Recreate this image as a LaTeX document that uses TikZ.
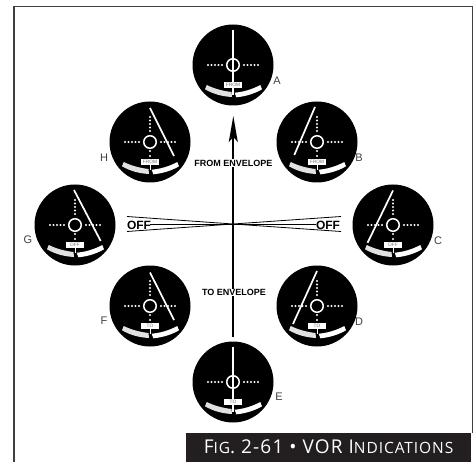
\documentclass[tikz,border=0pt]{standalone}
\usepackage{fontspec}
\setmainfont{Liberation Sans}
\newfontfamily\capfont[LetterSpace=6]{Open Sans}
\usetikzlibrary{arrows.meta,positioning}
\definecolor{barsoft}{RGB}{225,225,225}
\definecolor{capbar}{RGB}{35,31,32}
\newcommand{\capsm}[1]{{\fontsize{15.5}{17}\selectfont #1}}
% one instrument: name, centre, needle top, needle foot, flag text, letter position, letter
\newcommand{\vordial}[7]{%
  \node[dialface] (#1) at (#2) {};
  \begin{scope}[shift={(#2)}]
    \foreach \tick in {-25,-21.5,-18,-14.5,-11,11,14.5,18,21.5,25} \fill[white] (\tick,0) circle (1.05);
    \foreach \tick in {-25,-21.5,-18,-14.5,-11,9,14} \fill[white] (0,\tick) circle (1.05);
    \fill[barsoft] (-28,24.3) .. controls (-19,29.5) and (-10,31.5) .. (-1,32) -- (-1.5,27) .. controls (-10,26) and (-18,24) .. (-26.3,20) -- cycle;
    \fill[white] (29,24.3) .. controls (21,29) and (12,31.5) .. (3.3,32.3) -- (1.7,27.7) .. controls (10,27) and (19,24.5) .. (27.3,20) -- cycle;
    \draw[white,line width=1pt] (0,22) -- (0,28);
    \draw[white,line width=1.7pt] (#3) -- (#4);
    \node[hubring] (#1hub) at (0,0) {};
    \node[flagbox] (#1flag) at (0,20) {#5};
  \end{scope}
  \node[dialname] (#1name) at (#6) {#7};
}
\begin{document}
\begin{tikzpicture}[x=1pt,y=-1pt,
  dialface/.style={circle,fill=black,inner sep=0pt,minimum size=81pt},
  hubring/.style={circle,draw=white,line width=1.5pt,inner sep=0pt,minimum size=12.5pt},
  flagbox/.style={fill=white,inner sep=0pt,minimum width=17.5pt,minimum height=6pt,font=\fontsize{4.8}{5}\selectfont,text=black!55},
  dialname/.style={font=\fontsize{11}{12}\selectfont,text=black!75},
  envlabel/.style={font=\fontsize{9}{10}\selectfont\bfseries,fill=white,inner sep=0.6pt},
  offlabel/.style={font=\fontsize{12}{13}\selectfont\bfseries,inner sep=0pt},
  arr/.style={-{Stealth[length=26pt,width=9pt,inset=5pt]},line width=1.7pt}]
\useasboundingbox (0,0) rectangle (476,462);
%% ---- frame ----
\draw[black!75,line width=1.5pt] (14,462) -- (14,6.5) -- (472.5,6.5) -- (472.5,433);
%% ---- centre cross ----
\coordinate (mid) at (233,224);
\coordinate (offGu) at (127,216.5);
\coordinate (offGl) at (127,231.5);
\coordinate (offCu) at (341,216.5);
\coordinate (offCl) at (341,231.5);
\coordinate (offGm) at (150,224);
\coordinate (offCm) at (316,224);
\draw[line width=0.8pt] (offGu) -- (mid) -- (offGl);
\draw[line width=0.8pt] (offCu) -- (mid) -- (offCl);
\draw[line width=0.8pt] (offGm) -- (offCm);
\coordinate (arrowfoot) at (233.3,337);
\coordinate (arrowtip) at (233.3,116);
\draw[arr] (arrowfoot) -- (arrowtip);
\node[offlabel] (offG) at (139,225) {OFF};
\node[offlabel] (offC) at (328,225) {OFF};
\node[envlabel] (fromenv) at (233.5,163) {FROM ENVELOPE};
\node[envlabel] (toenv) at (234,292.5) {TO ENVELOPE};
%% ---- dials ----
\vordial{dialA}{233,65}{0,-35}{0,30}{FROM}{277,81}{A}
\vordial{dialB}{317,142}{-2,-35}{-22.7,13}{FROM}{359,158}{B}
\vordial{dialC}{393,225}{0,-34.5}{-25.4,17.7}{OFF}{438,241}{C}
\vordial{dialD}{317,306}{0,-35}{-24,18}{TO}{359,322}{D}
\vordial{dialE}{233,382}{0,-35}{0,30}{TO}{279,397}{E}
\vordial{dialF}{150,306}{0,-33.5}{24,14}{TO}{104,321}{F}
\vordial{dialG}{75,225}{-1,-35}{25.7,16}{OFF}{28,240}{G}
\vordial{dialH}{150,142}{0,-34}{24,14}{FROM}{104,158}{H}
%% ---- caption ----
\node[fill=capbar,text=white,anchor=south east,minimum width=285.5pt,minimum height=29.3pt,inner sep=0pt,font=\capfont\fontsize{19}{21}\selectfont] (caption) at (471.5,462) {F\capsm{IG}. 2-61 • VOR I\capsm{NDICATIONS}};
\end{tikzpicture}
\end{document}
